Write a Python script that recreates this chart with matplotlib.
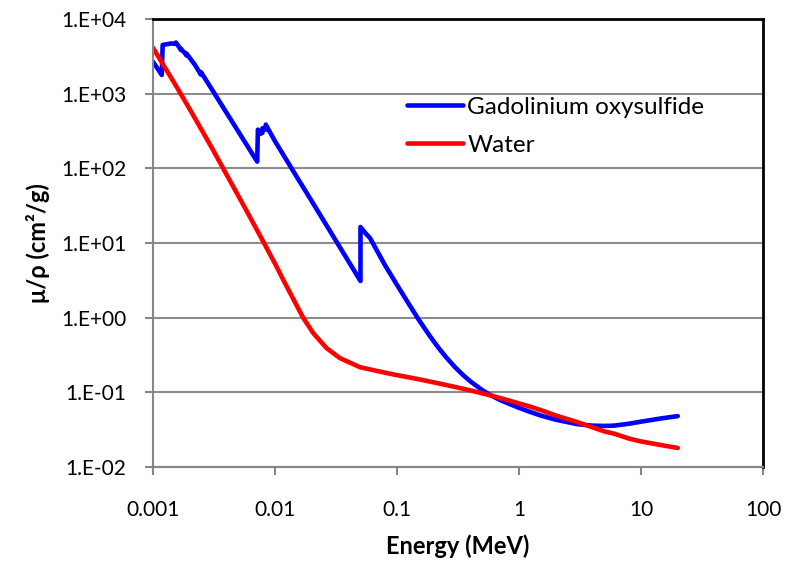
import numpy as np
import matplotlib
matplotlib.use('Agg')
import matplotlib.pyplot as plt
from matplotlib.ticker import FixedLocator, NullLocator

plt.rcParams['font.family'] = ['Lato', 'DejaVu Sans']

# energy (MeV) and mass attenuation (cm2/g)
gos_energy = [0.001, 0.00118, 0.0012, 0.0014, 0.00154, 0.00154, 0.00166, 0.00169, 0.00169,
              0.00183, 0.00188, 0.00188, 0.0022, 0.00247, 0.00247, 0.003, 0.004, 0.005,
              0.006, 0.00715, 0.00724, 0.0076, 0.0079, 0.0079, 0.0084, 0.0084, 0.01,
              0.015, 0.02, 0.03, 0.04, 0.0502, 0.0502, 0.055, 0.06, 0.08, 0.1, 0.12,
              0.15, 0.186, 0.22, 0.255, 0.3, 0.35, 0.4, 0.5, 0.578, 0.7, 0.8, 1, 1.25,
              1.5, 2, 3, 4, 5, 6, 8, 10, 15, 20]
gos_mu = [2680, 1780, 4490, 4700, 4650, 4850, 4060, 3850, 4000,
          3470, 3250, 3450, 2450, 1800, 1950, 1180, 557, 312,
          194, 123, 330, 290, 300, 345, 330, 385, 231,
          78, 36.4, 12.3, 5.7, 3.1, 16.4, 13.6, 11.7, 5.0, 2.75, 1.7,
          0.95, 0.567, 0.39, 0.29, 0.216, 0.169, 0.14, 0.107, 0.0925, 0.079, 0.072, 0.062, 0.0543,
          0.049, 0.043, 0.0375, 0.0358, 0.0355, 0.0358, 0.038, 0.0405, 0.045, 0.048]

water_energy = [0.001, 0.0015, 0.002, 0.003, 0.004, 0.005, 0.006, 0.008, 0.01, 0.0117,
                0.017, 0.0206, 0.0265, 0.0341, 0.0498, 0.06, 0.08, 0.1, 0.15, 0.2, 0.3,
                0.4, 0.5, 0.6, 0.8, 1, 1.25, 1.5, 2, 3, 4, 5, 6, 8, 10, 15, 20]
water_mu = [4100, 1380, 620, 195, 83, 43, 25, 10.5, 5.3, 3.2,
            1.0, 0.62, 0.39, 0.287, 0.217, 0.203, 0.183, 0.17, 0.15, 0.136, 0.118,
            0.106, 0.097, 0.09, 0.079, 0.071, 0.064, 0.058, 0.049, 0.040,
            0.034, 0.030, 0.028, 0.024, 0.022, 0.0195, 0.018]

xticks = [0.001, 0.01, 0.1, 1, 10, 100]
xticklabels = ['0.001', '0.01', '0.1', '1', '10', '100']
yticks = [1e-2, 1e-1, 1e0, 1e1, 1e2, 1e3, 1e4]
yticklabels = ['1.E-02', '1.E-01', '1.E+00', '1.E+01', '1.E+02', '1.E+03', '1.E+04']

fig = plt.figure(figsize=(7.88, 5.61), dpi=100)
ax = fig.add_axes([153 / 788, 94 / 561, 610 / 788, 448 / 561])

ax.plot(gos_energy, gos_mu, color='#0000ff', lw=3.3, label='Gadolinium oxysulfide',
        solid_joinstyle='round', solid_capstyle='round')
ax.plot(water_energy, water_mu, color='#ff0000', lw=3.3, label='Water',
        solid_joinstyle='round', solid_capstyle='round')

ax.set_xscale('log')
ax.set_yscale('log')
ax.set_xlim(0.001, 100)
ax.set_ylim(1e-2, 1e4)
ax.xaxis.set_major_locator(FixedLocator(xticks))
ax.xaxis.set_minor_locator(NullLocator())
ax.yaxis.set_major_locator(FixedLocator(yticks))
ax.yaxis.set_minor_locator(NullLocator())
ax.set_xticklabels(xticklabels)
ax.set_yticklabels(yticklabels)

ax.grid(axis='y', color='#8c8c8c', lw=1.5)
ax.set_axisbelow(True)
for side in ['left', 'bottom']:
    ax.spines[side].set_color('#868686')
    ax.spines[side].set_linewidth(1.5)
for side in ['top', 'right']:
    ax.spines[side].set_color('black')
    ax.spines[side].set_linewidth(2)
ax.tick_params(axis='both', colors='#868686', labelcolor='black', labelsize=15,
               length=6, width=1.5)
ax.tick_params(axis='x', pad=18)
ax.tick_params(axis='y', pad=13)

ax.set_xlabel('Energy (MeV)', fontsize=17, fontweight='bold', labelpad=10)
ax.set_ylabel('\u03bc/\u03c1 (cm\u00b2/g)', fontsize=17, fontweight='bold', labelpad=8)

ax.legend(loc='upper left', bbox_to_anchor=(0.40, 0.848), frameon=False, fontsize=17.5,
          handlelength=2.3, handletextpad=0.2, labelspacing=0.7, borderaxespad=0)

fig.savefig('out.png', dpi=100)
